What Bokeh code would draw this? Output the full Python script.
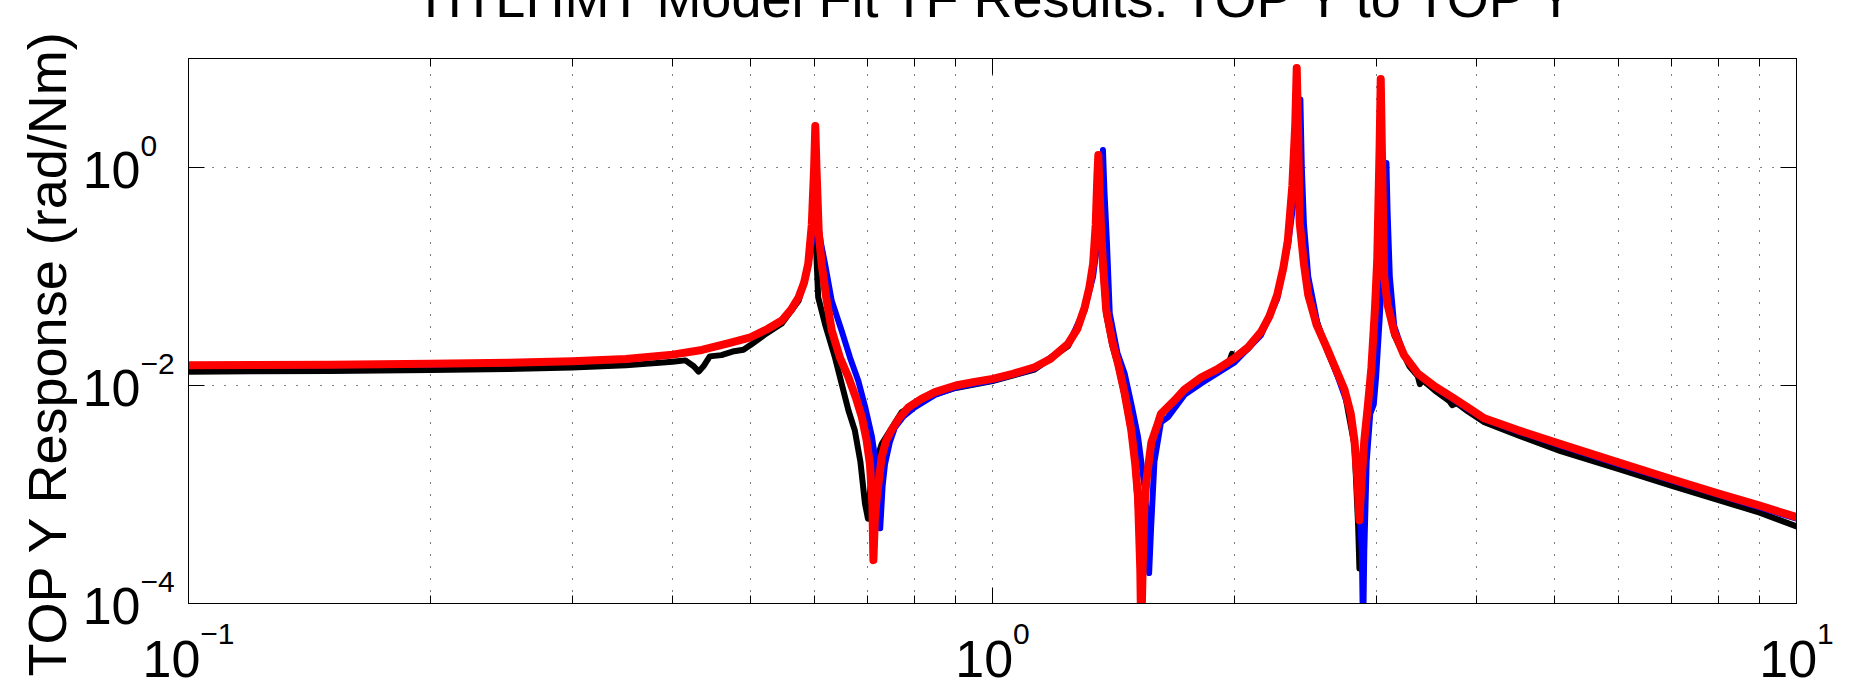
import math
from bokeh.plotting import figure
from bokeh.models import FixedTicker, LogAxis
from bokeh.core.properties import value
from bokeh.embed import file_html
from bokeh.resources import INLINE

# ---------------- data ----------------
# measured transfer function (black)
freq_meas = [0.1, 0.12, 0.15, 0.2, 0.25, 0.3, 0.35, 0.4, 0.415, 0.425, 0.431, 0.437, 0.445,
             0.46, 0.475, 0.49, 0.5, 0.52, 0.547, 0.574, 0.587, 0.595, 0.599, 0.603, 0.607,
             0.62, 0.637, 0.662, 0.674, 0.685, 0.694, 0.700, 0.705, 0.714, 0.728, 0.771,
             0.8, 0.848, 0.9, 1.0, 1.128, 1.242, 1.302, 1.334, 1.345, 1.352, 1.356, 1.362,
             1.372, 1.385, 1.41, 1.433, 1.46, 1.488, 1.505, 1.52, 1.53, 1.54, 1.554, 1.576,
             1.62, 1.733, 1.9, 1.97, 1.985, 2.0, 2.08, 2.158, 2.26, 2.33, 2.37, 2.39, 2.41,
             2.47, 2.61, 2.74, 2.82, 2.85, 2.86, 2.868, 2.90, 2.96, 3.01, 3.04, 3.07, 3.16,
             3.3, 3.38, 3.40, 3.43, 3.55, 3.70, 3.73, 3.78, 3.9, 4.09, 4.5, 5.09, 6.0, 7.0,
             8.0, 9.0, 10.0]
mag_meas = [0.0134, 0.0135, 0.0136, 0.0139, 0.0142, 0.0146, 0.0153, 0.0165, 0.0170, 0.0150,
            0.0134, 0.0150, 0.0185, 0.0190, 0.0205, 0.0213, 0.0235, 0.029, 0.037, 0.060,
            0.11, 0.20, 0.26, 0.20, 0.0645, 0.035, 0.018, 0.0059, 0.0039, 0.0020, 0.00083,
            0.0006, 0.0012, 0.0019, 0.0029, 0.0057, 0.0067, 0.0083, 0.0095, 0.0110, 0.014,
            0.023, 0.049, 0.12, 0.3, 0.9, 0.6, 0.25, 0.11, 0.045, 0.023, 0.015, 0.0080,
            0.0037, 0.0018, 0.0006, 0.00015, 0.0006, 0.0013, 0.0029, 0.0055, 0.0090, 0.0137,
            0.0165, 0.0195, 0.0172, 0.0218, 0.030, 0.065, 0.2, 0.8, 3.0, 0.3, 0.065, 0.0205,
            0.0088, 0.0028, 0.0005, 0.00021, 0.0005, 0.0030, 0.014, 0.14, 3.0, 0.095, 0.029,
            0.015, 0.0122, 0.0103, 0.0112, 0.0090, 0.0072, 0.0066, 0.0069, 0.0058, 0.0046,
            0.0035, 0.0025, 0.00172, 0.0012, 0.00089, 0.00068, 0.00051]

# model (blue)
freq_model = [0.1, 0.15, 0.2, 0.25, 0.3, 0.35, 0.4, 0.435, 0.47, 0.5, 0.525, 0.547, 0.562,
              0.574, 0.583, 0.590, 0.597, 0.603, 0.607, 0.612, 0.619, 0.631, 0.649, 0.665,
              0.681, 0.695, 0.708, 0.718, 0.725, 0.730, 0.735, 0.745, 0.756, 0.775, 0.8,
              0.848, 0.9, 1.0, 1.128, 1.242, 1.302, 1.334, 1.355, 1.366, 1.372, 1.378, 1.388,
              1.399, 1.43, 1.46, 1.49, 1.517, 1.545, 1.561, 1.566, 1.575, 1.59, 1.62, 1.652,
              1.733, 1.819, 2.0, 2.158, 2.26, 2.33, 2.37, 2.40, 2.415, 2.425, 2.44, 2.47,
              2.54, 2.61, 2.7, 2.78, 2.84, 2.88, 2.89, 2.90, 2.92, 2.95, 2.98, 3.0, 3.03,
              3.06, 3.08, 3.09, 3.10, 3.12, 3.16, 3.25, 3.38, 3.55, 3.72, 3.9, 4.09, 4.5,
              5.09, 6.0, 7.0, 8.0, 9.0, 10.0]
mag_model = [0.0151, 0.0153, 0.0156, 0.0160, 0.0165, 0.0173, 0.0190, 0.0210, 0.0242, 0.0274,
             0.0325, 0.039, 0.049, 0.063, 0.085, 0.125, 0.22, 0.5, 0.3, 0.2, 0.131, 0.06,
             0.032, 0.018, 0.011, 0.0062, 0.0034, 0.0017, 0.00049, 0.0012, 0.0019, 0.0030,
             0.0041, 0.0052, 0.0063, 0.0082, 0.0096, 0.0111, 0.0142, 0.0235, 0.050, 0.10,
             0.25, 0.6, 1.45, 0.6, 0.2, 0.046, 0.020, 0.0129, 0.0065, 0.0034, 0.0012,
             0.00047, 0.00019, 0.0005, 0.0020, 0.0046, 0.0051, 0.0082, 0.0105, 0.0163,
             0.029, 0.062, 0.19, 0.5, 1.2, 4.2, 1.0, 0.3, 0.1, 0.035, 0.0215, 0.011, 0.006,
             0.002, 0.0003, 0.00005, 0.0003, 0.002, 0.0055, 0.0067, 0.012, 0.04, 0.15, 0.5,
             1.1, 0.4, 0.1, 0.035, 0.019, 0.0126, 0.0096, 0.0077, 0.0061, 0.0049, 0.0038,
             0.0028, 0.0019, 0.00134, 0.00099, 0.00076, 0.00060]

# fit (red)
freq_fit = [0.1, 0.15, 0.2, 0.25, 0.3, 0.35, 0.4, 0.435, 0.47, 0.5, 0.525, 0.547, 0.562,
            0.574, 0.583, 0.590, 0.596, 0.600, 0.602, 0.604, 0.608, 0.613, 0.621, 0.631,
            0.646, 0.662, 0.676, 0.688, 0.697, 0.704, 0.709, 0.711, 0.714, 0.718, 0.728,
            0.737, 0.749, 0.765, 0.786, 0.815, 0.848, 0.9, 0.95, 1.0, 1.06, 1.128, 1.18,
            1.242, 1.275, 1.302, 1.32, 1.334, 1.344, 1.350, 1.354, 1.358, 1.364, 1.372,
            1.385, 1.41, 1.433, 1.46, 1.488, 1.505, 1.517, 1.527, 1.531, 1.537, 1.545,
            1.554, 1.576, 1.606, 1.62, 1.684, 1.733, 1.819, 1.9, 2.0, 2.08, 2.158, 2.21,
            2.26, 2.30, 2.33, 2.36, 2.38, 2.39, 2.40, 2.41, 2.44, 2.47, 2.53, 2.61, 2.68,
            2.74, 2.79, 2.82, 2.845, 2.86, 2.875, 2.90, 2.93, 2.96, 2.99, 3.01, 3.03, 3.04,
            3.05, 3.07, 3.10, 3.16, 3.25, 3.38, 3.55, 3.72, 3.9, 4.09, 4.5, 5.09, 6.0, 7.0,
            8.0, 9.0, 10.0]
mag_fit = [0.0153, 0.0155, 0.0158, 0.0162, 0.0167, 0.0175, 0.0192, 0.0212, 0.0245, 0.0277,
           0.033, 0.0395, 0.050, 0.0645, 0.088, 0.131, 0.30, 1.0, 2.4, 1.0, 0.25, 0.131,
           0.065, 0.032, 0.018, 0.0119, 0.0078, 0.0051, 0.0032, 0.0019, 0.0008, 0.00025,
           0.0006, 0.00095, 0.0022, 0.0031, 0.0039, 0.0050, 0.0063, 0.0075, 0.0087, 0.0100,
           0.0108, 0.0115, 0.0128, 0.0147, 0.0175, 0.0242, 0.033, 0.052, 0.080, 0.131, 0.30,
           0.80, 1.30, 0.70, 0.30, 0.131, 0.049, 0.025, 0.0158, 0.0085, 0.0039, 0.0019,
           0.00095, 0.0002, 0.00005, 0.0002, 0.0008, 0.00134, 0.0030, 0.0045, 0.0055,
           0.0073, 0.0092, 0.0119, 0.0140, 0.0178, 0.0225, 0.0311, 0.043, 0.0677, 0.12,
           0.214, 0.676, 2.5, 8.2, 2.0, 0.314, 0.13, 0.0677, 0.036, 0.0215, 0.0135, 0.0092,
           0.0055, 0.0031, 0.0013, 0.00058, 0.0012, 0.0031, 0.0065, 0.0146, 0.05, 0.146,
           1.5, 6.5, 1.5, 0.10, 0.055, 0.031, 0.019, 0.0129, 0.0098, 0.0079, 0.0063, 0.0050,
           0.0039, 0.0029, 0.00197, 0.00138, 0.00102, 0.00079, 0.00062]

# axes / ticks / texts
x_range_lim = (0.1, 10.0)
y_range_lim = (1e-4, 10.0)
x_ticks = [0.1, 1.0, 10.0]
x_minor_ticks = [0.2, 0.3, 0.4, 0.5, 0.6, 0.7, 0.8, 0.9, 2.0, 3.0, 4.0, 5.0, 6.0, 7.0, 8.0, 9.0]
x_tick_exponents = ["\u22121", "0", "1"]
y_ticks = [1e-4, 1e-2, 1.0]
y_tick_exponents = ["\u22124", "\u22122", "0"]
title_text = "TITLHMT Model Fit TF Results: TOP Y to TOP Y"
y_label_text = "TOP Y Response (rad/Nm)"

# ---------------- layout / style ----------------
W, H = 1854, 687
B_LEFT, B_RIGHT, B_TOP, B_BOTTOM = 188, 58, 58, 84
FONT = "Liberation Sans"
BASE_SIZE = 52
EXP_SIZE = 30
CHAR_W = {"1": 0.556, "0": 0.556, "2": 0.556, "4": 0.556, "\u2212": 0.584}


def text_w(s, size):
    return sum(CHAR_W[c] for c in s) * size


p = figure(width=W, height=H, x_axis_type="log", y_axis_type="log",
           x_range=x_range_lim, y_range=y_range_lim,
           output_backend="svg", toolbar_location=None,
           min_border_left=B_LEFT, min_border_right=B_RIGHT,
           min_border_top=B_TOP, min_border_bottom=B_BOTTOM)
p.background_fill_color = "white"
p.border_fill_color = "white"
p.outline_line_color = "black"
p.outline_line_width = 1

xticker = FixedTicker(ticks=x_ticks, minor_ticks=x_minor_ticks)
yticker = FixedTicker(ticks=y_ticks, minor_ticks=[])

p.add_layout(LogAxis(), "above")
p.add_layout(LogAxis(), "right")

for ax in p.xaxis:
    ax.ticker = xticker
for ax in p.yaxis:
    ax.ticker = yticker
for ax in list(p.xaxis) + list(p.yaxis):
    ax.major_label_text_font_size = "2px"
    ax.major_label_text_color = None
    ax.major_label_standoff = 0
    ax.axis_line_color = "black"
    ax.axis_line_width = 1
    ax.major_tick_line_color = "black"
    ax.major_tick_in = 16
    ax.major_tick_out = 0
    ax.minor_tick_line_color = "black"
    ax.minor_tick_in = 8
    ax.minor_tick_out = 0

p.xgrid.ticker = xticker
p.ygrid.ticker = yticker
for g in [p.xgrid[0], p.ygrid[0]]:
    g.grid_line_color = "black"
    g.grid_line_width = 1
    g.grid_line_dash = "1 11"
p.xgrid.minor_grid_line_color = "black"
p.xgrid.minor_grid_line_width = 1
p.xgrid.minor_grid_line_dash = "1 11"

# ---------------- curves ----------------
p.line(freq_meas, mag_meas, line_color="#000000", line_width=6,
       line_join="round", line_cap="round")
p.line(freq_model, mag_model, line_color="#0000ff", line_width=6,
       line_join="round", line_cap="round")
p.line(freq_fit, mag_fit, line_color="#ff0000", line_width=8,
       line_join="round", line_cap="round")

# ---------------- tick labels: "10" with a raised exponent ----------------
x_offs = [(text_w("10", BASE_SIZE) - text_w(e, EXP_SIZE)) / 2 for e in x_tick_exponents]
common = dict(text_font=value(FONT), text_color="black", level="annotation",
              text_baseline="middle")

p.text(x=x_ticks, y=[y_range_lim[0]] * len(x_ticks), text=["10"] * len(x_ticks),
       x_offset=x_offs, y_offset=55, text_align="right",
       text_font_size=value(f"{BASE_SIZE}px"), **common)
p.text(x=x_ticks, y=[y_range_lim[0]] * len(x_ticks), text=x_tick_exponents,
       x_offset=x_offs, y_offset=30, text_align="left",
       text_font_size=value(f"{EXP_SIZE}px"), **common)

p.text(x=[x_range_lim[0]] * len(y_ticks), y=y_ticks, text=["10"] * len(y_ticks),
       x_offset=-48, y_offset=2, text_align="right",
       text_font_size=value(f"{BASE_SIZE}px"), **common)
p.text(x=[x_range_lim[0]] * len(y_ticks), y=y_ticks, text=y_tick_exponents,
       x_offset=-48, y_offset=-22, text_align="left",
       text_font_size=value(f"{EXP_SIZE}px"), **common)

# ---------------- axis label and title ----------------
y_mid = math.sqrt(y_range_lim[0] * y_range_lim[1])
x_mid = math.sqrt(x_range_lim[0] * x_range_lim[1])
p.text(x=[x_range_lim[0]], y=[y_mid], text=[y_label_text], angle=math.pi / 2,
       x_offset=-142, y_offset=22, text_align="center",
       text_font_size=value("54px"), **common)
p.text(x=[x_mid], y=[y_range_lim[1]], text=[title_text],
       x_offset=6, y_offset=-61, text_align="center",
       text_font_size=value("54px"), **common)

open("out.html", "w").write(file_html(p, INLINE))
